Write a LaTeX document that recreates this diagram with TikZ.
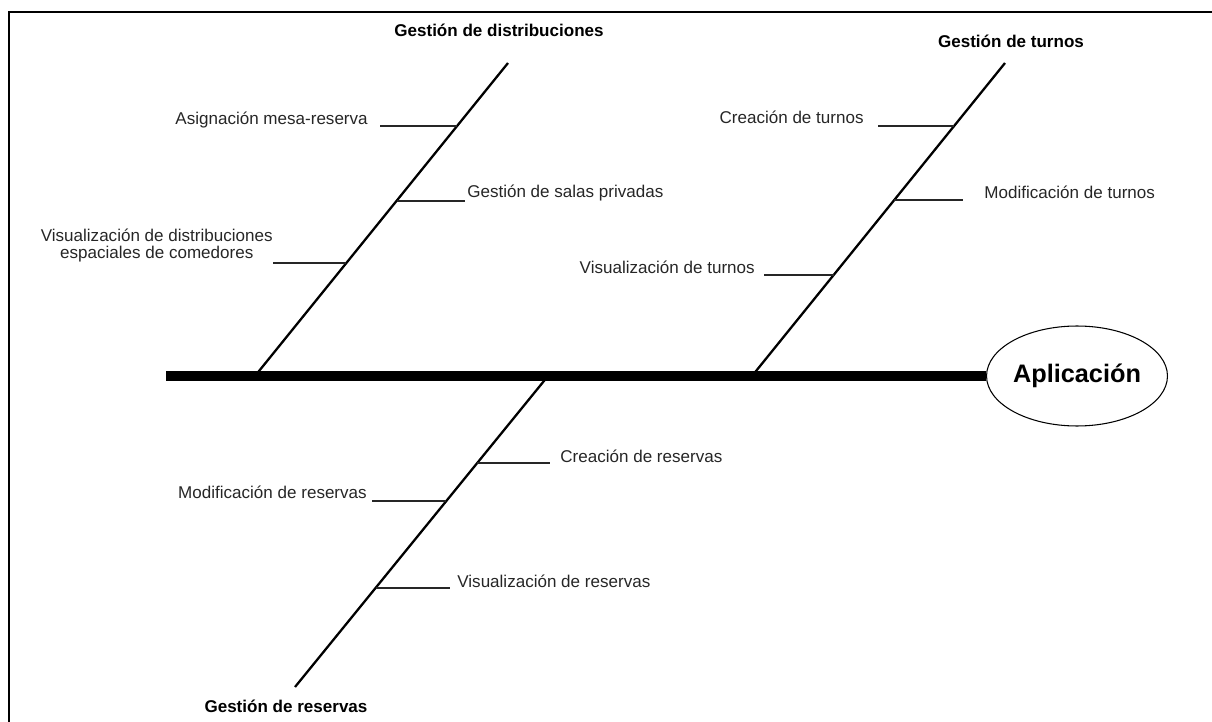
\documentclass[tikz,border=0pt]{standalone}
\usepackage{fontspec}
\setmainfont{Liberation Sans}
\usetikzlibrary{shapes.geometric}

\begin{document}
\begin{tikzpicture}[x=0.02cm, y=-0.02cm]
    \tikzstyle{spine}=[line width=5.7pt]  % espina central
    \tikzstyle{bone}=[line width=1.3pt]  % espinas de cada categoría
    \tikzstyle{tick}=[line width=0.6pt, black!85]  % rayitas de cada causa
    \tikzstyle{head}=[font=\fontsize{9.7pt}{11pt}\selectfont\bfseries, inner sep=0pt, anchor=base]
    \tikzstyle{cause}=[font=\fontsize{9.7pt}{9.7pt}\selectfont, text=black!85, inner ysep=0pt]
    \tikzstyle{effect}=[ellipse, draw, line width=0.6pt, minimum width=3.4cm, minimum height=2cm, inner sep=0pt, font=\fontsize{14.4pt}{16pt}\selectfont\bfseries]

    % marco
    \useasboundingbox (0,0) rectangle (1212,722);
    \draw[line width=1.1pt] (9,722) -- (9,12) -- (1212,12);

    % efecto
    \node[effect](app) at (1077,376) {Aplicación};
    \coordinate (tail) at (166,376);

    % espinas
    \coordinate (s1) at (255,376);
    \coordinate (e1) at (508,63);
    \coordinate (s2) at (752,376);
    \coordinate (e2) at (1005,63);
    \coordinate (s3) at (548,376);
    \coordinate (e3) at (295,687);
    \draw[bone](s1)--(e1);
    \draw[bone](s2)--(e2);
    \draw[bone](s3)--(e3);
    \draw[spine](tail)--(app.west);

    % categorías
    \node[head](h1) at (499,37) {Gestión de distribuciones};
    \node[head](h2) at (1011,48) {Gestión de turnos};
    \node[head](h3) at (286,712) {Gestión de reservas};

    % puntos sobre las espinas
    \coordinate (pd1) at (457,126);
    \coordinate (pd2) at (396.5,201);
    \coordinate (pd3) at (346,263);
    \coordinate (pt1) at (954,126);
    \coordinate (pt2) at (894,200);
    \coordinate (pt3) at (834,275);
    \coordinate (pr1) at (477,463);
    \coordinate (pr2) at (446,501);
    \coordinate (pr3) at (375.5,588);

    % causas
    \node[cause,anchor=base east,inner xsep=6.8pt](d1) at (380,125) {Asignación mesa-reserva};
    \node[cause,anchor=base west,inner xsep=1.1pt](d2) at (465,198) {Gestión de salas privadas};
    \node[cause,anchor=south east,inner sep=0pt,align=center](d3) at (273,262) {Visualización de distribuciones\\espaciales de comedores};
    \node[cause,anchor=base east,inner xsep=8pt](t1) at (878,124) {Creación de turnos};
    \node[cause,anchor=base west,inner xsep=12pt](t2) at (963,199) {Modificación de turnos};
    \node[cause,anchor=base east,inner xsep=5.1pt](t3) at (764,274) {Visualización de turnos};
    \node[cause,anchor=base west,inner xsep=5.7pt](r1) at (550,462) {Creación de reservas};
    \node[cause,anchor=base east,inner xsep=2.8pt](r2) at (372,498) {Modificación de reservas};
    \node[cause,anchor=base west,inner xsep=4pt](r3) at (450,587) {Visualización de reservas};

    % rayitas
    \draw[tick](pd1)--(pd1 -| d1.east);
    \draw[tick](pd2)--(pd2 -| d2.west);
    \draw[tick](pd3)--(pd3 -| d3.east);
    \draw[tick](pt1)--(pt1 -| t1.east);
    \draw[tick](pt2)--(pt2 -| t2.west);
    \draw[tick](pt3)--(pt3 -| t3.east);
    \draw[tick](pr1)--(pr1 -| r1.west);
    \draw[tick](pr2)--(pr2 -| r2.east);
    \draw[tick](pr3)--(pr3 -| r3.west);
\end{tikzpicture}
\end{document}
